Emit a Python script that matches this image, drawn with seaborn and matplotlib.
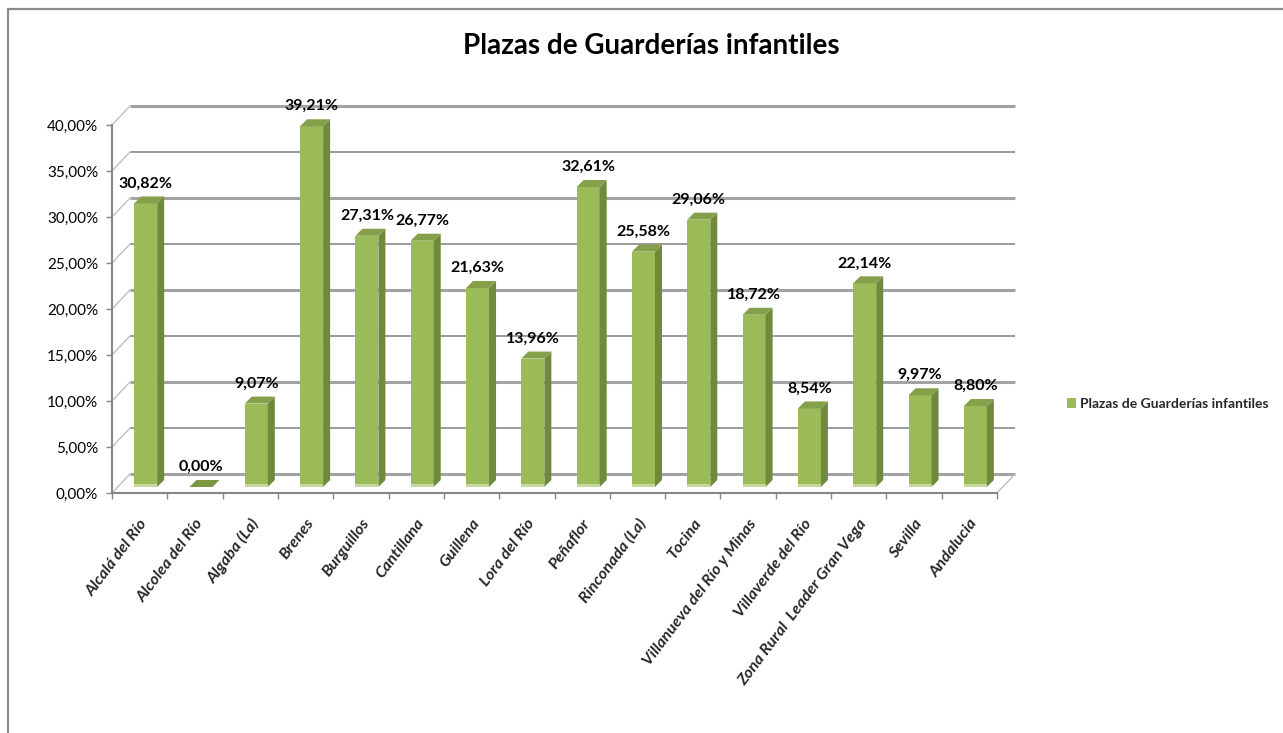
import matplotlib
matplotlib.use("Agg")
import matplotlib.pyplot as plt
import pandas as pd
import seaborn as sns
from matplotlib import font_manager
from matplotlib.lines import Line2D
from matplotlib.patches import Polygon, Rectangle, Patch

# ---- data ----
municipios = [
    "Alcalá del Río", "Alcolea del Río", "Algaba (La)", "Brenes", "Burguillos",
    "Cantillana", "Guillena", "Lora del Río", "Peñaflor", "Rinconada (La)",
    "Tocina", "Villanueva del Río y Minas", "Villaverde del Río",
    "Zona Rural  Leader Gran Vega", "Sevilla", "Andalucia",
]
porcentajes = [30.82, 0.00, 9.07, 39.21, 27.31, 26.77, 21.63, 13.96,
               32.61, 25.58, 29.06, 18.72, 8.54, 22.14, 9.97, 8.80]
y_ticks = [0, 5, 10, 15, 20, 25, 30, 35, 40]
serie = "Plazas de Guarderías infantiles"
titulo = "Plazas de Guarderías infantiles"

# ---- style ----
sns.set_theme(style="white")
installed = {f.name for f in font_manager.fontManager.ttflist}
base_font = "Liberation Sans Narrow" if "Liberation Sans Narrow" in installed else "Lato"
plt.rcParams["font.family"] = [base_font, "DejaVu Sans"]

VERDE = "#9BBB59"
VERDE_LADO = "#6F8A3C"
VERDE_TOPE = "#85A04B"
VERDE_BASE = "#C4D89C"
GRIS_EJE = "#868686"

W, H = 1283, 733
fig = plt.figure(figsize=(W / 100, H / 100), dpi=100)


def fx(px):
    return px / W


def fy(py):
    return 1 - py / H


# front plane of the 3-D box
left_px, right_px, bottom_px, top_px = 112, 997, 493, 125
ax = fig.add_axes([fx(left_px), fy(bottom_px),
                   fx(right_px) - fx(left_px), fy(top_px) - fy(bottom_px)])

n = len(municipios)
kx = n / (right_px - left_px)          # data units per pixel (x)
ky = 40 / (bottom_px - top_px)         # data units per pixel (y)

wall_dx, wall_dy = 18 * kx, 19 * ky    # depth of the back wall
bar_ox, bar_oy = 6 * kx, 6 * ky        # bars sit a little behind the front plane
depth_dx, depth_dy = 7 * kx, 7 * ky    # bar depth

df = pd.DataFrame({"municipio": municipios, "valor": porcentajes})
sns.barplot(data=df, x="municipio", y="valor", color=VERDE, width=0.416,
            saturation=1, errorbar=None, linewidth=0, ax=ax, zorder=3)

ax.set_xlim(-0.5, n - 0.5)
ax.set_ylim(0, 40)

# back wall gridlines and left wall diagonals
for t in y_ticks:
    major = (t % 10 == 0)
    ax.plot([-0.5 + wall_dx, n - 0.5 + wall_dx], [t + wall_dy] * 2,
            color="#A3A3A3" if major else "#7F7F7F",
            lw=2.2 if major else 1.1, clip_on=False, zorder=1,
            solid_capstyle="butt")
    ax.plot([-0.5, -0.5 + wall_dx], [t, t + wall_dy],
            color="#BFBFBF", lw=1.0, clip_on=False, zorder=1)
ax.plot([n - 0.5, n - 0.5 + wall_dx], [0, wall_dy],
        color="#BFBFBF", lw=1.0, clip_on=False, zorder=1)

# 3-D faces of each column
for patch, valor in zip(ax.patches, porcentajes):
    x0 = patch.get_x() + bar_ox
    w = patch.get_width()
    h = patch.get_height()
    patch.set_x(x0)
    patch.set_y(bar_oy)
    y0 = bar_oy
    top = y0 + h
    lado = Polygon([(x0 + w, y0), (x0 + w + depth_dx, y0 + depth_dy),
                    (x0 + w + depth_dx, top + depth_dy), (x0 + w, top)],
                   closed=True, facecolor=VERDE_LADO, edgecolor="none",
                   zorder=3, clip_on=False)
    tope = Polygon([(x0, top), (x0 + w, top),
                    (x0 + w + depth_dx, top + depth_dy), (x0 + depth_dx, top + depth_dy)],
                   closed=True, facecolor=VERDE_TOPE if h > 0 else "#7A9842",
                   edgecolor="none", zorder=3, clip_on=False)
    ax.add_patch(lado)
    ax.add_patch(tope)
    if h > 0:
        ax.add_patch(Rectangle((x0, y0), w, 3 * ky, facecolor=VERDE_BASE,
                               edgecolor="none", zorder=3.5))
    ax.text(x0 + w / 2, top + depth_dy + 6 * ky,
            f"{valor:.2f}".replace(".", ",") + "%",
            ha="center", va="bottom", fontsize=11.5, fontweight="bold",
            color="black", zorder=5, clip_on=False)

# axes
for side in ("top", "right"):
    ax.spines[side].set_visible(False)
for side in ("left", "bottom"):
    ax.spines[side].set_color(GRIS_EJE)
    ax.spines[side].set_linewidth(1.5)
    ax.spines[side].set_zorder(4)

ax.set_yticks(y_ticks)
ax.set_yticklabels([f"{t:.2f}".replace(".", ",") + "%" for t in y_ticks])
ax.tick_params(axis="y", direction="out", length=4, width=1, color=GRIS_EJE,
               pad=6, labelsize=11, labelcolor="black", left=True)

ax.set_xticks(range(n))
ax.set_xticklabels(municipios, rotation=53, ha="right", rotation_mode="anchor",
                   fontsize=11.6, fontweight="bold", fontstyle="italic")
ax.set_xticks([i - 0.5 for i in range(n + 1)], minor=True)
ax.tick_params(axis="x", which="major", length=0, pad=17)
ax.tick_params(axis="x", which="minor", direction="out", length=4, width=1,
               color=GRIS_EJE, bottom=True)
ax.set_xlabel("")
ax.set_ylabel("")
ax.set_facecolor("none")

# title and legend
fig.text(fx(651), fy(46), titulo, ha="center", va="center",
         fontsize=20, fontweight="bold", color="black")
fig.legend(handles=[Patch(facecolor=VERDE, edgecolor="none")], labels=[serie],
           loc="center left", bbox_to_anchor=(fx(1054), fy(404)), frameon=False,
           handlelength=0.65, handleheight=0.65, handletextpad=0.35,
           prop={"weight": "bold", "size": 10, "family": [base_font, "DejaVu Sans"]})

# chart area border
fig.add_artist(Line2D([fx(8), fx(8)], [fy(9), 0], color="#8C8C8C", lw=1.6))
fig.add_artist(Line2D([fx(8), 1], [fy(9), fy(9)], color="#8C8C8C", lw=1.6))

fig.savefig("out.png", dpi=100, facecolor="white")
